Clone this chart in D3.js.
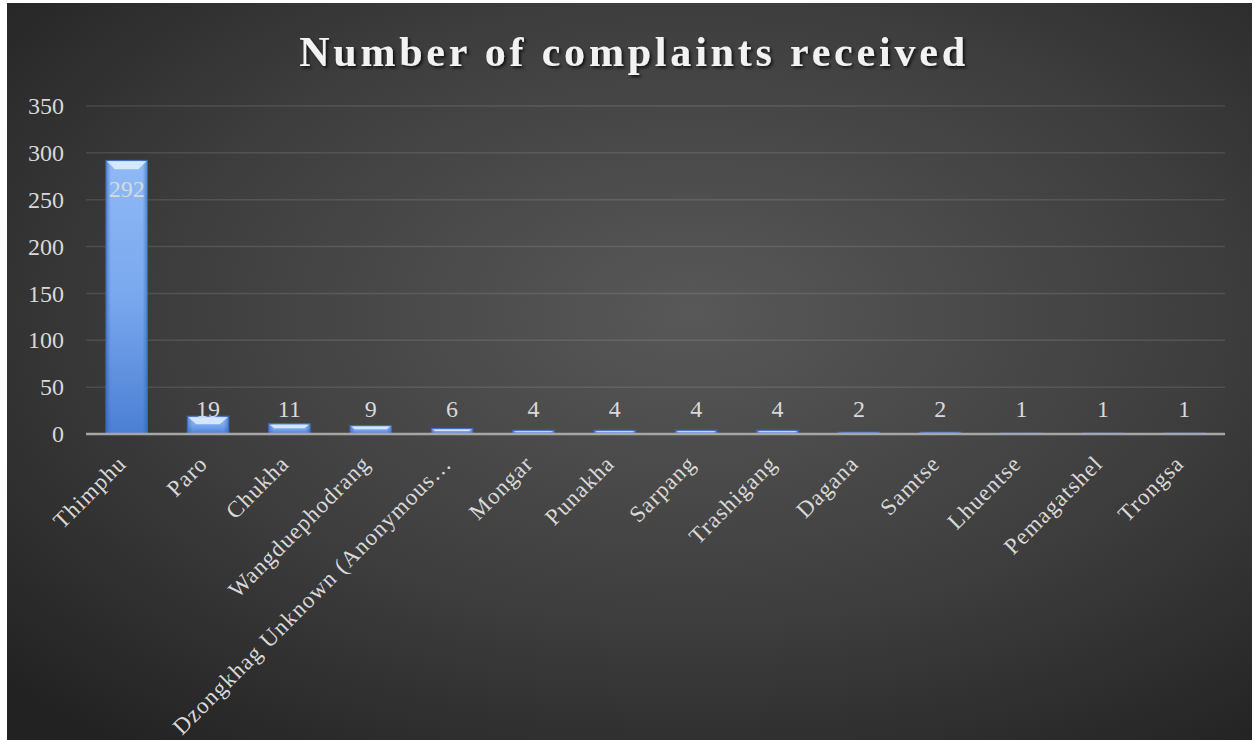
<!DOCTYPE html>
<html><head><meta charset="utf-8">
<script src="https://cdn.jsdelivr.net/npm/d3@7"></script>
<style>
html,body{margin:0;padding:0;background:#fff;}
svg{display:block;}
</style></head>
<body>
<script>
const categories = ["Thimphu","Paro","Chukha","Wangduephodrang","Dzongkhag Unknown (Anonymous…","Mongar","Punakha","Sarpang","Trashigang","Dagana","Samtse","Lhuentse","Pemagatshel","Trongsa"];
const values = [292,19,11,9,6,4,4,4,4,2,2,1,1,1];
const yTicks = [0,50,100,150,200,250,300,350];
const title = "Number of complaints received";

(function(){
const W = 1253, H = 740;
const svg = d3.select("body").append("svg").attr("width", W).attr("height", H);
const defs = svg.append("defs");

const bg = defs.append("radialGradient").attr("id","bg").attr("cx","0.55").attr("cy","0.42").attr("r","0.75");
bg.append("stop").attr("offset","0").attr("stop-color","#585858");
bg.append("stop").attr("offset","0.55").attr("stop-color","#3e3e3e");
bg.append("stop").attr("offset","1").attr("stop-color","#222222");

const barG = defs.append("linearGradient").attr("id","barG").attr("x1",0).attr("y1",0).attr("x2",0).attr("y2",1);
barG.append("stop").attr("offset","0").attr("stop-color","#8fb9f6");
barG.append("stop").attr("offset","0.5").attr("stop-color","#7aa8ee");
barG.append("stop").attr("offset","1").attr("stop-color","#4b7fd3");
const barH = defs.append("linearGradient").attr("id","barH").attr("x1",0).attr("y1",0).attr("x2",1).attr("y2",0);
barH.append("stop").attr("offset","0").attr("stop-color","#2f5fae").attr("stop-opacity",0.55);
barH.append("stop").attr("offset","0.12").attr("stop-color","#2f5fae").attr("stop-opacity",0);
barH.append("stop").attr("offset","0.88").attr("stop-color","#2f5fae").attr("stop-opacity",0);
barH.append("stop").attr("offset","1").attr("stop-color","#2f5fae").attr("stop-opacity",0.55);

const sh = defs.append("filter").attr("id","tsh").attr("x","-10%").attr("y","-30%").attr("width","120%").attr("height","160%");
sh.append("feDropShadow").attr("dx",2).attr("dy",2).attr("stdDeviation",1.5).attr("flood-color","#000").attr("flood-opacity",0.7);

svg.append("rect").attr("x",7).attr("y",3).attr("width",W-8).attr("height",H-3).attr("fill","url(#bg)");

const pL = 86, pR = 1225, pT = 106, pB = 434;
const x = d3.scaleBand().domain(categories).range([pL,pR]).paddingInner(0.49).paddingOuter(0.245);
const y = d3.scaleLinear().domain([0,350]).range([pB, pT]);

svg.append("g").selectAll("line").data(yTicks.filter(t=>t>0)).join("line")
  .attr("x1",pL).attr("x2",pR).attr("y1",d=>y(d)).attr("y2",d=>y(d))
  .attr("stroke","#ffffff").attr("stroke-opacity",0.11).attr("stroke-width",1.5);

const yAxis = d3.axisLeft(y).tickValues(yTicks).tickSize(0).tickPadding(22);
const ya = svg.append("g").attr("transform",`translate(${pL},0)`).call(yAxis);
ya.select(".domain").remove();
ya.selectAll("text").attr("font-family","'Liberation Serif', serif").attr("font-size",24).attr("fill","#d9d9d9");

const bars = svg.append("g").selectAll("g").data(categories.map((c,i)=>({c,v:values[i]}))).join("g");
bars.append("rect").attr("x",d=>x(d.c)).attr("width",x.bandwidth())
  .attr("y",d=>y(d.v)).attr("height",d=>y(0)-y(d.v)).attr("fill","url(#barG)")
  .attr("stroke","#3b6cc0").attr("stroke-width",1);
bars.append("rect").attr("x",d=>x(d.c)).attr("width",x.bandwidth())
  .attr("y",d=>y(d.v)).attr("height",d=>y(0)-y(d.v)).attr("fill","url(#barH)");
bars.append("path").attr("d",d=>{
  const x0 = x(d.c), x1 = x0 + x.bandwidth(), t = y(d.v), h = y(0)-t;
  const b = Math.min(9, h*0.45), s = Math.min(b, 8);
  return `M${x0+1},${t+1}L${x1-1},${t+1}L${x1-1-s},${t+b}L${x0+1+s},${t+b}Z`;
}).attr("fill","#e2f0ff").attr("fill-opacity",0.85);

svg.append("line").attr("x1",pL).attr("x2",pR).attr("y1",y(0)).attr("y2",y(0))
  .attr("stroke","#a6a6a6").attr("stroke-width",2.5);

bars.append("text").attr("x",d=>x(d.c)+x.bandwidth()/2)
  .attr("y",d=> (y(0)-y(d.v) > 60) ? y(d.v)+37 : y(0)-17)
  .attr("text-anchor","middle").attr("font-family","'Liberation Serif', serif").attr("font-size",24)
  .attr("fill","#d9d9d9").text(d=>d.v);

svg.append("g").selectAll("text").data(categories).join("text")
  .attr("transform",d=>`translate(${x(d)+x.bandwidth()/2+1},465) rotate(-45)`)
  .attr("text-anchor","end").attr("font-family","'Liberation Serif', serif").attr("font-size",23)
  .attr("letter-spacing",1.1).attr("fill","#d9d9d9").text(d=>d);

svg.append("text").attr("x",634).attr("y",66).attr("text-anchor","middle")
  .attr("font-family","'Liberation Serif', serif").attr("font-weight","bold").attr("font-size",42)
  .attr("letter-spacing",3.8).attr("fill","#f2f2f2").attr("filter","url(#tsh)").text(title);
})();
</script>
</body></html>
